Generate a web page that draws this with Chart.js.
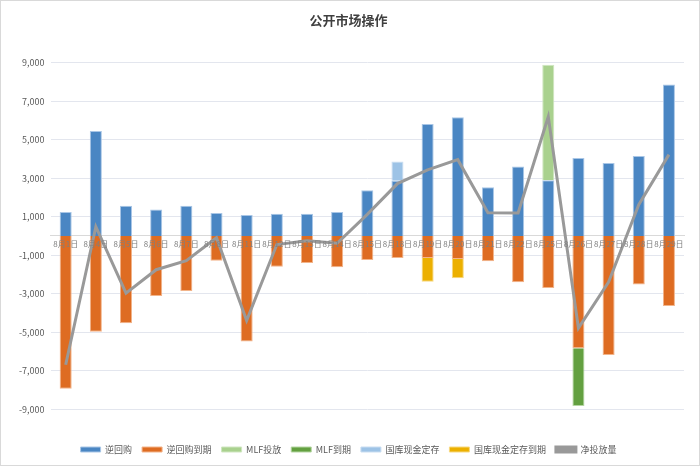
<!DOCTYPE html>
<html>
<head>
<meta charset="utf-8">
<script src="https://cdn.jsdelivr.net/npm/chart.js@4"></script>
<style>
  body { margin: 0; background: #fff; }
  #chartDiv { width: 698px; height: 464px; border: 1px solid #d9d9d9; position: relative; }
</style>
</head>
<body>
<div id="chartDiv"><canvas id="myChart"></canvas></div>
<script>
// 日期
const categories = ["8月1日", "8月4日", "8月5日", "8月6日", "8月7日", "8月8日", "8月11日", "8月12日", "8月13日", "8月14日", "8月15日",
  "8月18日", "8月19日", "8月20日", "8月21日", "8月22日", "8月25日", "8月26日", "8月27日", "8月28日", "8月29日"];

// 各项操作 (亿元)
const reverseRepo = [1245, 5450, 1570, 1365, 1570, 1190, 1090, 1150, 1155, 1245, 2370, 2860, 5810, 6160, 2525, 3600, 2890, 4050, 3790, 4150, 7860];
const repoMaturity = [-7935, -4975, -4540, -3120, -2860, -1285, -5480, -1600, -1410, -1630, -1250, -1145, -1150, -1200, -1320, -2410, -2705, -5840, -6185, -2530, -3640];
const mlfInjection = [null, null, null, null, null, null, null, null, null, null, null, null, null, null, null, null, 6000, null, null, null, null];
const mlfMaturity = [null, null, null, null, null, null, null, null, null, null, null, null, null, null, null, null, null, -3000, null, null, null];
const cashDeposit = [null, null, null, null, null, null, null, null, null, null, null, 1000, null, null, null, null, null, null, null, null, null];
const cashDepositMaturity = [null, null, null, null, null, null, null, null, null, null, null, null, -1230, -1000, null, null, null, null, null, null, null];
const netInjection = [-6690, 475, -2970, -1755, -1290, -95, -4390, -450, -255, -385, 1120, 2715, 3430, 3960, 1205, 1190, 6185, -4790, -2395, 1620, 4220];

const yTicks = [-9000, -7000, -5000, -3000, -1000, 1000, 3000, 5000, 7000, 9000];

const fontFamily = "'Noto Sans CJK SC', 'Noto Sans', sans-serif";

function barSet(label, data, color, border) {
  return {
    type: "bar",
    label: label,
    data: data,
    backgroundColor: color,
    borderColor: border,
    borderWidth: 1,
    stack: "ops",
    barPercentage: 0.4,
    categoryPercentage: 1,
    order: 1
  };
}

const ctx = document.getElementById("myChart");

new Chart(ctx, {
  data: {
    labels: categories,
    datasets: [
      barSet("逆回购", reverseRepo, "#4a86c3", "#a9c6e6"),
      barSet("逆回购到期", repoMaturity, "#de6c22", "#f2b48a"),
      barSet("MLF投放", mlfInjection, "#a9d18e", "#cfe6c0"),
      barSet("MLF到期", mlfMaturity, "#63a040", "#b5d6a2"),
      barSet("国库现金定存", cashDeposit, "#9dc3e6", "#c9ddf1"),
      barSet("国库现金定存到期", cashDepositMaturity, "#ecb000", "#f7d980"),
      {
        type: "line",
        label: "净投放量",
        data: netInjection,
        borderColor: "#999999",
        backgroundColor: "#999999",
        borderWidth: 3,
        pointRadius: 0,
        tension: 0,
        stack: "net",
        order: 0
      }
    ]
  },
  options: {
    responsive: true,
    maintainAspectRatio: false,
    animation: false,
    layout: { padding: { left: 12, right: 15, top: 6, bottom: 1 } },
    plugins: {
      title: {
        display: true,
        text: "公开市场操作",
        color: "#404040",
        font: { family: fontFamily, size: 13, weight: "bold" },
        padding: { top: 5, bottom: 35 }
      },
      legend: {
        position: "bottom",
        title: { display: true, text: " ", font: { size: 9 }, padding: { top: 5, bottom: 10 } },
        labels: {
          color: "#595959",
          boxWidth: 20,
          boxHeight: 5,
          padding: 10,
          font: { family: fontFamily, size: 9 },
          sort: (a, b) => a.datasetIndex - b.datasetIndex
        }
      },
      tooltip: { enabled: false }
    },
    scales: {
      x: {
        stacked: true,
        position: { y: 0 },
        grid: { display: false, drawTicks: false },
        border: { color: "#d9d9d9" },
        ticks: {
          z: 1,
          color: "#7f7f7f",
          maxRotation: 0,
          autoSkip: false,
          padding: 3,
          font: { family: fontFamily, size: 8 }
        }
      },
      y: {
        stacked: true,
        min: -9000,
        max: 9000,
        afterBuildTicks: (scale) => {
          scale.ticks = yTicks.map((v) => ({ value: v }));
        },
        grid: { color: "#e3e6ee", lineWidth: 1, drawTicks: false },
        border: { display: false },
        ticks: {
          color: "#595959",
          padding: 6,
          font: { family: fontFamily, size: 9 },
          callback: (v) => v.toLocaleString("en-US")
        }
      }
    }
  }
});
</script>
</body>
</html>
